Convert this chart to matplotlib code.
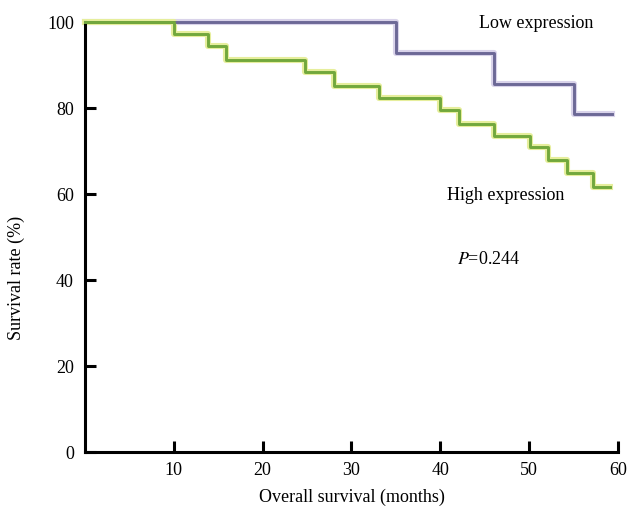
import matplotlib
matplotlib.use('Agg')
import matplotlib.pyplot as plt

# months / survival (%)
low_t = [0, 35.0, 46.0, 55.0, 59.3]
low_s = [100, 92.9, 85.7, 78.6, 78.6]
high_t = [0, 10.0, 13.9, 15.9, 24.8, 28.0, 33.1, 40.0, 42.1, 46.1, 50.1, 52.1, 54.3, 57.2, 59.1]
high_s = [100, 97.2, 94.4, 91.2, 88.4, 85.1, 82.3, 79.5, 76.4, 73.5, 71.0, 67.9, 64.8, 61.7, 61.7]
xticks = [10, 20, 30, 40, 50, 60]
yticks = [0, 20, 40, 60, 80, 100]

plt.rcParams['font.family'] = 'Liberation Serif'
plt.rcParams['mathtext.fontset'] = 'stix'

fig = plt.figure(figsize=(6.29, 5.15), dpi=100)
ax = fig.add_axes([0.135, 0.1223, 0.8475, 0.8347])

# soft halo under each curve, like the scanned figure
ax.step(low_t, low_s, where='post', color='#d9d3ea', lw=4.4, clip_on=False, zorder=2)
ax.step(low_t, low_s, where='post', color='#6c6896', lw=2.1, clip_on=False, zorder=3)
ax.step(high_t, high_s, where='post', color='#e6ee9c', lw=4.4, clip_on=False, zorder=2)
ax.step(high_t, high_s, where='post', color='#72a83c', lw=2.1, clip_on=False, zorder=3)

ax.set_xlim(0, 60)
ax.set_ylim(0, 100)
ax.set_xticks(xticks)
ax.set_yticks(yticks)
for s in ['top', 'right']:
    ax.spines[s].set_visible(False)
for s in ['left', 'bottom']:
    ax.spines[s].set_linewidth(2.2)
ax.tick_params(direction='in', length=8, width=2.2, labelsize=13)
ax.tick_params(axis='y', pad=8)
ax.tick_params(axis='x', pad=7)

ax.set_xlabel('Overall survival (months)', fontsize=13)
ax.set_ylabel('Survival rate (%)', fontsize=13)
ax.xaxis.set_label_coords(0.5, -0.085)
ax.yaxis.set_label_coords(-0.113, 0.405)

ax.text(50.8, 99.6, 'Low expression', fontsize=13, ha='center', va='center')
ax.text(47.4, 59.6, 'High expression', fontsize=13, ha='center', va='center')
ax.text(45.4, 44.8, r'$P$=0.244', fontsize=13, ha='center', va='center')

fig.savefig('out.png', dpi=100)
